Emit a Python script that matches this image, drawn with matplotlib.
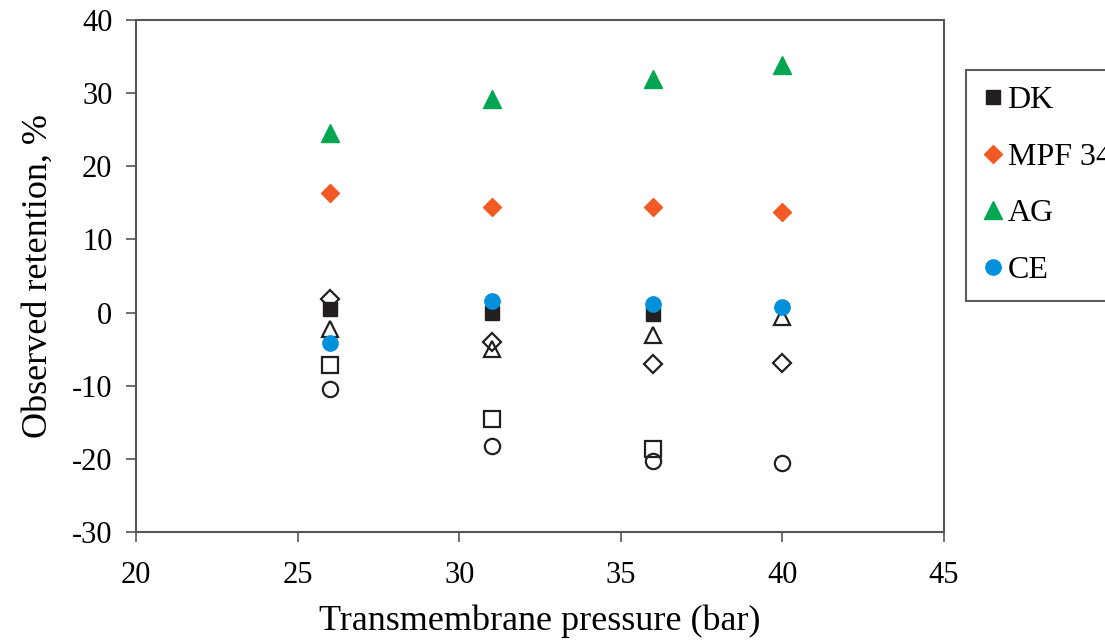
import matplotlib
matplotlib.use("Agg")
import matplotlib.pyplot as plt
import numpy as np

plt.rcParams['font.family'] = ['Liberation Serif', 'DejaVu Serif']
plt.rcParams['axes.unicode_minus'] = False

# transmembrane pressure, bar
pressure = [26, 31, 36, 40]

# filled symbols (legend series)
dk = [0.5, 0.0, -0.2, np.nan]
mpf34 = [16.3, 14.4, 14.5, 13.7]
ag = [24.6, 29.2, 32.0, 33.8]
ce = [-4.1, 1.6, 1.2, 0.7]

# open symbols (no legend entry)
open_square = [-7.1, -14.5, -18.6, np.nan]
open_diamond = [1.9, -4.0, -7.0, -6.9]
open_triangle = [-2.2, -5.0, -3.0, -0.6]
open_circle = [-10.5, -18.3, -20.3, -20.6]

fig = plt.figure(figsize=(11.05, 6.4), dpi=100)
ax = fig.add_axes([136 / 1105, 1 - 532 / 640, (944 - 136) / 1105, (532 - 20) / 640])

# open markers first, filled ones on top
ow = 1.6
ax.plot(pressure, open_square, ls='none', marker='s', ms=11, mfc='none', mec='#231f20', mew=ow)
ax.plot(pressure, open_diamond, ls='none', marker='D', ms=9, mfc='none', mec='#231f20', mew=ow)
ax.plot(pressure, open_triangle, ls='none', marker='^', ms=12, mfc='none', mec='#231f20', mew=ow)
ax.plot(pressure, open_circle, ls='none', marker='o', ms=11, mfc='none', mec='#231f20', mew=ow)

ax.plot(pressure, dk, ls='none', marker='s', ms=10, color='#231f20', label='DK')
ax.plot(pressure, mpf34, ls='none', marker='D', ms=9, color='#f15a24', label='MPF 34')
ax.plot(pressure, ag, ls='none', marker='^', ms=13, color='#00a651', label='AG')
ax.plot(pressure, ce, ls='none', marker='o', ms=11, color='#0091da', label='CE')

ax.set_xlim(20, 45)
ax.set_ylim(-30, 40)
ax.set_xticks(np.arange(20, 46, 5))
ax.set_yticks(np.arange(-30, 41, 10))
ax.tick_params(direction='out', length=7, width=1.2, color='#555555', labelsize=22)
ax.tick_params(axis='x', pad=14)
ax.tick_params(axis='y', pad=10)

for s in ax.spines.values():
    s.set_color('#555555')
    s.set_linewidth(1.5)

ax.set_xlabel('Transmembrane pressure (bar)', fontsize=26, labelpad=10)
ax.set_ylabel('Observed retention, %', fontsize=26, labelpad=12)

# legend box runs past the right edge, as in the original
leg = fig.legend(loc='upper left', bbox_to_anchor=(966 / 1105, 1 - 70 / 640),
                 fontsize=23, frameon=True, fancybox=False, edgecolor='#333333',
                 borderaxespad=0, handletextpad=0.1, handlelength=0.7,
                 labelspacing=0.85, borderpad=0.5, numpoints=1)
leg.get_frame().set_linewidth(1.5)

fig.savefig('out.png', dpi=100)
